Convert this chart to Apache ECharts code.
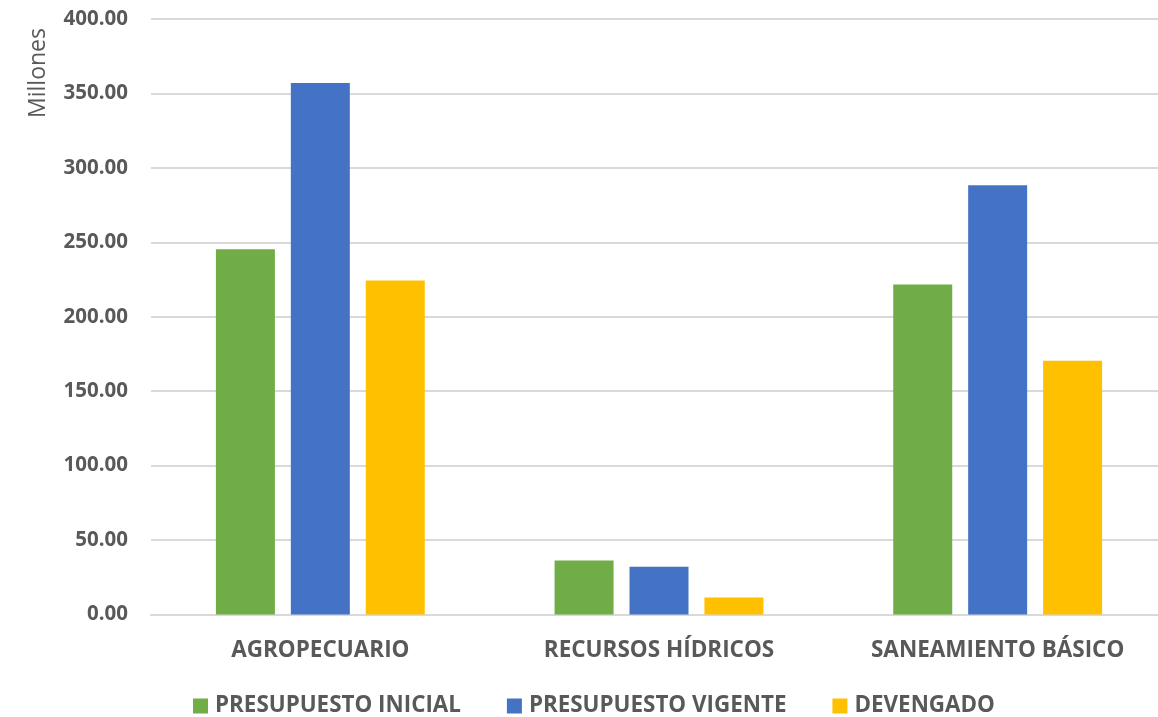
<!DOCTYPE html>
<html>
<head>
<meta charset="utf-8">
<script src="https://cdn.jsdelivr.net/npm/echarts@6/dist/echarts.min.js"></script>
<style>
html,body{margin:0;padding:0;background:#fff;}
#chart{width:1158px;height:717px;}
</style>
</head>
<body>
<div id="chart"></div>
<script>
const categories = ['AGROPECUARIO', 'RECURSOS HÍDRICOS', 'SANEAMIENTO BÁSICO'];
const seriesNames = ['PRESUPUESTO INICIAL', 'PRESUPUESTO VIGENTE', 'DEVENGADO'];
const presupuestoInicial = [245.4, 36.2, 221.7];
const presupuestoVigente = [357.0, 32.0, 288.4];
const devengado = [224.4, 11.4, 170.5];
const yTicks = { min: 0, max: 400, interval: 50 };
const colors = ['#70AD47', '#4472C4', '#FFC000'];

const FONT = '"Open Sans", "Noto Sans", sans-serif';
const TEXT = '#595959';

const chart = echarts.init(document.getElementById('chart'));
const dataSets = [presupuestoInicial, presupuestoVigente, devengado];
chart.setOption({
  animation: false,
  textStyle: { fontFamily: FONT },
  grid: { left: 151, top: 19, width: 1016, bottom: 102.5, containLabel: false, outerBoundsMode: 'none' },
  legend: {
    left: 193,
    top: 695,
    padding: 0,
    itemWidth: 15,
    itemHeight: 15,
    itemGap: 46,
    icon: 'rect',
    textStyle: { fontFamily: FONT, fontSize: 22.4, fontWeight: 'bold', color: TEXT, padding: [0, 0, 0, 2] },
    data: seriesNames
  },
  xAxis: {
    type: 'category',
    data: categories,
    axisLine: { show: true, lineStyle: { color: '#D9D9D9', width: 2 } },
    axisTick: { show: false },
    axisLabel: { fontFamily: FONT, fontSize: 22.5, fontWeight: 'bold', color: TEXT, margin: 25 }
  },
  yAxis: {
    type: 'value',
    min: yTicks.min,
    max: yTicks.max,
    interval: yTicks.interval,
    axisLine: { show: false },
    axisTick: { show: false },
    splitLine: { lineStyle: { color: '#D9D9D9', width: 2 } },
    axisLabel: {
      fontFamily: FONT, fontSize: 20.5, fontWeight: 'bold', color: TEXT, margin: 23,
      formatter: v => v.toFixed(2)
    }
  },
  graphic: [{
    type: 'text',
    x: 38, y: 73,
    rotation: Math.PI / 2,
    style: {
      text: 'Millones',
      fontFamily: FONT, fontSize: 23, fill: TEXT,
      align: 'center', verticalAlign: 'middle'
    }
  }],
  series: seriesNames.map((name, i) => ({
    name,
    type: 'bar',
    data: dataSets[i],
    barWidth: 59,
    barGap: '27%',
    itemStyle: { color: colors[i] }
  }))
});
</script>
</body>
</html>
